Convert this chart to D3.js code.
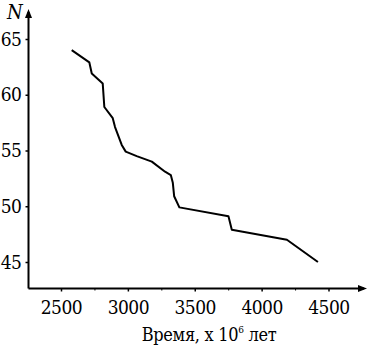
<!DOCTYPE html>
<html><head><meta charset="utf-8">
<script src="https://cdn.jsdelivr.net/npm/d3@7"></script>
<style>body{margin:0;background:#fff}svg{display:block}
svg text{font-family:"DejaVu Serif Condensed","DejaVu Serif",serif;fill:#000}</style>
</head><body>
<svg id="c" width="367" height="349"></svg>
<script>
const timeValues = [2580, 2712, 2730, 2812, 2824, 2887, 2904, 2954, 2984, 3066, 3179, 3278, 3321, 3336, 3346, 3385, 3752, 3777, 4189, 4421];
const nValues    = [64, 62.9, 61.9, 61, 58.9, 57.9, 57.1, 55.5, 54.9, 54.5, 54, 53.1, 52.8, 52.1, 50.9, 49.9, 49.1, 47.9, 47, 45];
const xTicks = [2500, 3000, 3500, 4000, 4500];
const xMinorTicks = [2750, 3250, 3750, 4250];
const yTicks = [45, 50, 55, 60, 65];

const svg = d3.select("#c");
const x = d3.scaleLinear().domain([2500, 4500]).range([61, 328.5]);
const y = d3.scaleLinear().domain([45, 65]).range([262, 39]);
const x0 = 28.5, yBase = 288.5;

svg.append("line").attr("x1", x0).attr("x2", 364).attr("y1", yBase).attr("y2", yBase)
  .attr("stroke", "#000").attr("stroke-width", 2);
svg.append("path").attr("d", `M367,${yBase} L358,${yBase-3.5} L358,${yBase+3.5} Z`).attr("fill", "#000");
svg.append("line").attr("x1", x0).attr("x2", x0).attr("y1", yBase).attr("y2", 12)
  .attr("stroke", "#000").attr("stroke-width", 2);
svg.append("path").attr("d", `M${x0},9 L${x0-3.5},18 L${x0+3.5},18 Z`).attr("fill", "#000");

const gx = svg.append("g").attr("transform", `translate(0,${yBase})`)
  .call(d3.axisBottom(x).tickValues(xTicks).tickSize(3).tickPadding(9).tickFormat(d3.format("d")));
gx.attr("font-family", null);
gx.select(".domain").remove();
gx.selectAll("line").attr("stroke-width", 1.5);
gx.selectAll("text").attr("font-size", 19).attr("letter-spacing", -0.5);
const gxm = svg.append("g").attr("transform", `translate(0,${yBase})`)
  .call(d3.axisBottom(x).tickValues(xMinorTicks).tickSize(2).tickFormat(""));
gxm.select(".domain").remove();

const gy = svg.append("g").attr("transform", `translate(${x0},0)`)
  .call(d3.axisLeft(y).tickValues(yTicks).tickSize(3).tickPadding(4));
gy.attr("font-family", null);
gy.select(".domain").remove();
gy.selectAll("line").attr("stroke-width", 1.5);
gy.selectAll("text").attr("font-size", 19).attr("letter-spacing", -0.5);

const data = timeValues.map((t, i) => ({t, n: nValues[i]}));
svg.append("path").datum(data)
  .attr("d", d3.line().x(d => x(d.t)).y(d => y(d.n)))
  .attr("fill", "none").attr("stroke", "#000").attr("stroke-width", 2).attr("stroke-linejoin", "round");

svg.append("text").attr("x", 7).attr("y", 19).attr("font-style", "italic")
  .attr("font-size", 20).text("N");
const t = svg.append("text").attr("x", 209).attr("y", 341).attr("text-anchor", "middle")
  .attr("font-size", 18).attr("letter-spacing", -0.3);
t.append("tspan").text("Время, x 10");
t.append("tspan").attr("dy", -8).attr("font-size", 10).text("6");
t.append("tspan").attr("dy", 8).text(" лет");
</script>
</body></html>
